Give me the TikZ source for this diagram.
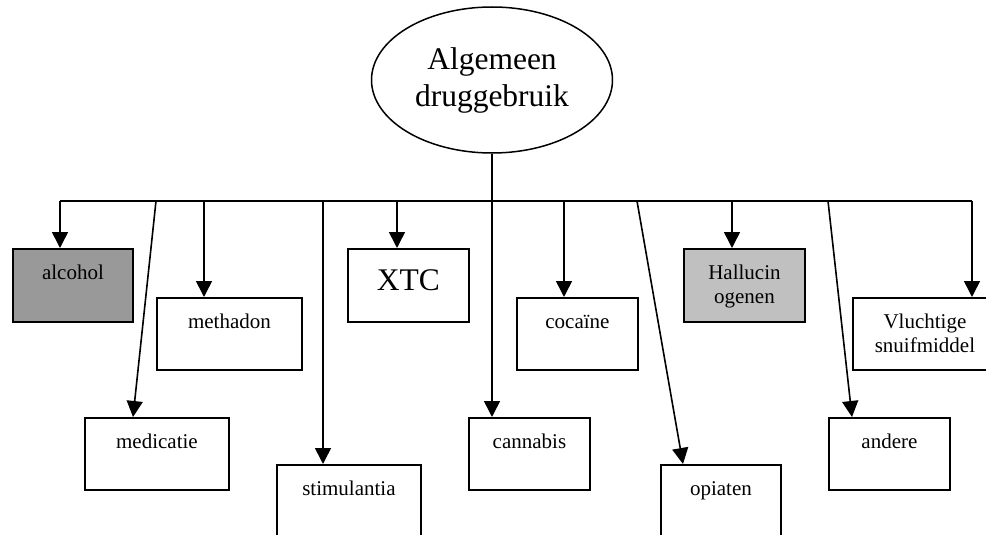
\documentclass[tikz,border=0pt]{standalone}
\usepackage{fontspec}
\setmainfont{Liberation Serif}
\usetikzlibrary{arrows.meta,shapes.geometric}
\newcommand{\bxt}[4]{\parbox[t][#2pt][t]{#1pt}{\centering\rule{0pt}{#3pt}#4}}
\definecolor{darkfill}{HTML}{999999}
\definecolor{lightfill}{HTML}{C0C0C0}
\begin{document}
\begin{tikzpicture}[x=1pt,y=-1pt,
  box/.style={draw,line width=1.9pt,inner sep=0pt,anchor=north west,font=\fontsize{21}{24}\selectfont},
  bigbox/.style={box,font=\fontsize{31.5}{36}\selectfont},
  conn/.style={line width=1.6pt},
  arr/.style={conn,-{Triangle[width=16pt,length=16pt]}}]
\useasboundingbox (0,0) rectangle (986,535);
\clip (0,0) rectangle (986,535);

\node[ellipse,draw,line width=1.5pt,minimum width=241pt,minimum height=146pt,inner sep=0pt,align=center,font=\fontsize{31.5}{37}\selectfont] (top) at (492,80) {Algemeen\\druggebruik};

\node[box,fill=darkfill] (alcohol) at (12,248) {\bxt{120}{73}{31}{alcohol}};
\node[box] (methadon) at (156,297) {\bxt{145}{72}{31}{methadon}};
\node[box] (medicatie) at (84,417) {\bxt{144}{72}{31}{medicatie}};
\node[box] (stimulantia) at (276,464) {\bxt{144}{100}{31}{stimulantia}};
\node[bigbox] (xtc) at (347,248) {\bxt{121}{73}{42}{XTC}};
\node[box] (cannabis) at (468,417) {\bxt{121}{72}{31}{cannabis}};
\node[box] (cocaine) at (516,297) {\bxt{121}{72}{31}{cocaïne}};
\node[box] (opiaten) at (660,464) {\bxt{120}{100}{31}{opiaten}};
\node[box,fill=lightfill] (halluc) at (683,248) {\bxt{121}{73}{31}{Hallucin\\ogenen}};
\node[box] (andere) at (828,417) {\bxt{121}{72}{31}{andere}};
\node[box] (vlucht) at (852,297) {\bxt{144}{72}{31}{Vluchtige\\snuifmiddel}};

\coordinate (bL) at (60,201);
\coordinate (bR) at (972,201);
\coordinate (sMed) at (156,201);
\coordinate (sMeth) at (204,201);
\coordinate (sStim) at (323,201);
\coordinate (sXtc) at (397,201);
\coordinate (sCoc) at (564,201);
\coordinate (sOpi) at (637,201);
\coordinate (sHal) at (732,201);
\coordinate (sAnd) at (828,201);

\draw[conn] (bL) -- (bR);
\draw[arr] (top.south) -- (top.south |- cannabis.north);
\draw[arr] (bL) -- (bL |- alcohol.north);
\draw[arr] (sMed) -- ([xshift=49pt]medicatie.north west);
\draw[arr] (sMeth) -- (sMeth |- methadon.north);
\draw[arr] (sStim) -- (sStim |- stimulantia.north);
\draw[arr] (sXtc) -- (sXtc |- xtc.north);
\draw[arr] (sCoc) -- (sCoc |- cocaine.north);
\draw[arr] (sOpi) -- ([xshift=23pt]opiaten.north west);
\draw[arr] (sHal) -- (sHal |- halluc.north);
\draw[arr] (sAnd) -- ([xshift=24pt]andere.north west);
\draw[arr] (bR) -- (bR |- vlucht.north);
\end{tikzpicture}
\end{document}
